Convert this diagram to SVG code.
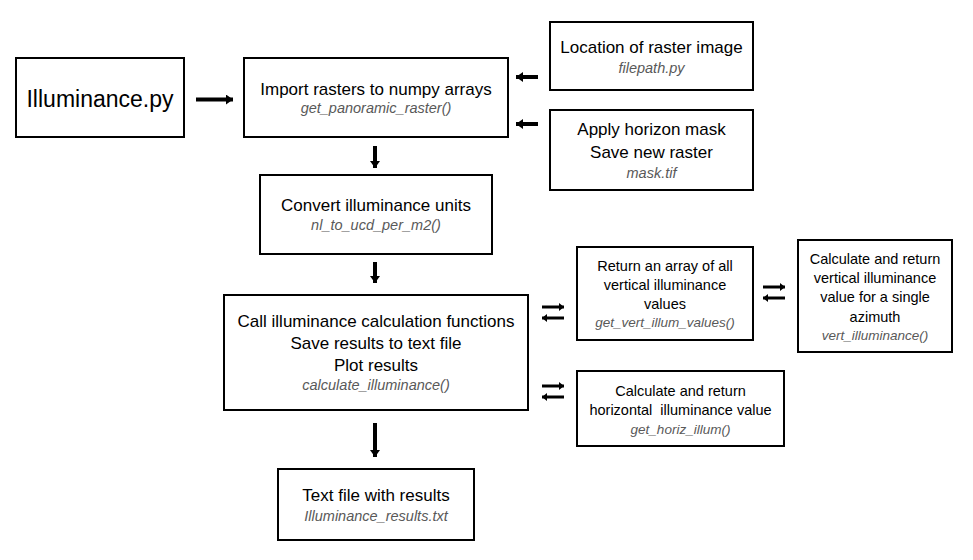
<svg xmlns="http://www.w3.org/2000/svg" width="973" height="560" viewBox="0 0 973 560">
<style>
.box{fill:#fff;stroke:#000;stroke-width:2}
text{font-family:"Liberation Sans",Arial,sans-serif;fill:#000;text-anchor:middle}
.m{font-size:17px}
.s{font-size:14.5px}
.i{font-style:italic;fill:#595959;font-size:14.5px}
.is{font-style:italic;fill:#595959;font-size:13.5px}
.a{stroke:#000;stroke-width:4;fill:none}
.d{stroke:#000;stroke-width:3;fill:none}
</style>
<defs>
<marker id="h" markerUnits="userSpaceOnUse" markerWidth="8" markerHeight="10" refX="7" refY="5" orient="auto">
<path d="M0,0 L7,5 L0,10 Z" fill="#000"/>
</marker>
<marker id="hs" markerUnits="userSpaceOnUse" markerWidth="6" markerHeight="8" refX="5" refY="4" orient="auto">
<path d="M0,0 L5,4 L0,8 Z" fill="#000"/>
</marker>
</defs>
<rect width="973" height="560" fill="#fff"/>
<g id="connectors">
<path class="a" d="M196,99.5 H233" marker-end="url(#h)"/>
<path class="a" d="M538,77 H516" marker-end="url(#h)"/>
<path class="a" d="M538,124 H516" marker-end="url(#h)"/>
<path class="a" d="M375,146 V168" marker-end="url(#h)"/>
<path class="a" d="M375,262 V283" marker-end="url(#h)"/>
<path class="a" d="M375,423 V457" marker-end="url(#h)"/>
<path class="d" d="M542,307 H564" marker-end="url(#hs)"/>
<path class="d" d="M564,318 H542" marker-end="url(#hs)"/>
<path class="d" d="M542,386 H564" marker-end="url(#hs)"/>
<path class="d" d="M564,397 H542" marker-end="url(#hs)"/>
<path class="d" d="M763,287 H785" marker-end="url(#hs)"/>
<path class="d" d="M785,298 H763" marker-end="url(#hs)"/>
</g>
<g id="illuminance">
<rect class="box" x="16" y="58" width="168" height="79"/>
<text x="100" y="107" style="font-size:23px">Illuminance.py</text>
</g>
<g id="import">
<rect class="box" x="244" y="58" width="264" height="79"/>
<text class="m" x="376" y="95">Import rasters to numpy arrays</text>
<text class="i" x="376" y="113">get_panoramic_raster()</text>
</g>
<g id="location">
<rect class="box" x="550" y="22" width="203" height="68"/>
<text class="m" x="651.5" y="53">Location of raster image</text>
<text class="i" x="651.5" y="73">filepath.py</text>
</g>
<g id="mask">
<rect class="box" x="550" y="110" width="203" height="80"/>
<text class="m" x="651.5" y="135">Apply horizon mask</text>
<text class="m" x="651.5" y="158">Save new raster</text>
<text class="i" x="651.5" y="178">mask.tif</text>
</g>
<g id="convert">
<rect class="box" x="260" y="175" width="232" height="79"/>
<text class="m" x="376" y="211">Convert illuminance units</text>
<text class="i" x="376" y="230">nl_to_ucd_per_m2()</text>
</g>
<g id="calculate">
<rect class="box" x="224" y="295" width="304" height="115"/>
<text class="m" x="376" y="327">Call illuminance calculation functions</text>
<text class="m" x="376" y="349">Save results to text file</text>
<text class="m" x="376" y="371">Plot results</text>
<text class="i" x="376" y="390">calculate_illuminance()</text>
</g>
<g id="vertvalues">
<rect class="box" x="577" y="247" width="176" height="93"/>
<text class="s" x="665" y="271">Return an array of all</text>
<text class="s" x="665" y="290">vertical illuminance</text>
<text class="s" x="665" y="309">values</text>
<text class="is" x="665" y="327">get_vert_illum_values()</text>
</g>
<g id="vertilluminance">
<rect class="box" x="798" y="240" width="154" height="112"/>
<text class="s" x="875" y="264">Calculate and return</text>
<text class="s" x="875" y="283">vertical illuminance</text>
<text class="s" x="875" y="302">value for a single</text>
<text class="s" x="875" y="322">azimuth</text>
<text class="is" x="875" y="340">vert_illuminance()</text>
</g>
<g id="horiz">
<rect class="box" x="577" y="371" width="207" height="75"/>
<text class="s" x="680.5" y="396">Calculate and return</text>
<text class="s" x="680.5" y="415" xml:space="preserve">horizontal  illuminance value</text>
<text class="is" x="680.5" y="434">get_horiz_illum()</text>
</g>
<g id="results">
<rect class="box" x="278" y="469" width="196" height="71"/>
<text class="m" x="376" y="501">Text file with results</text>
<text class="i" x="376" y="521">Illuminance_results.txt</text>
</g>
</svg>
